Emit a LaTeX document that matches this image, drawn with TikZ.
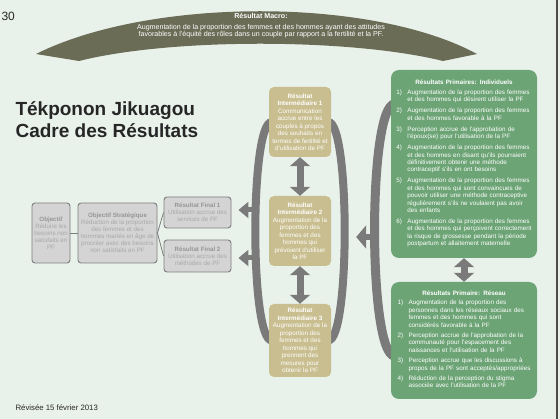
\documentclass[tikz,border=0pt]{standalone}
\usepackage{fontspec}
\setmainfont{Liberation Sans}
\usepackage{xcolor}
\usepackage{tikz}
\definecolor{bgmint}{RGB}{233,241,235}
\definecolor{macroolive}{RGB}{106,108,86}
\definecolor{interbeige}{RGB}{201,190,143}
\definecolor{primgreen}{RGB}{108,164,117}
\definecolor{finalgray}{RGB}{212,212,212}
\definecolor{bordergray}{RGB}{125,125,125}
\definecolor{headgray}{RGB}{150,150,150}
\definecolor{softtext}{RGB}{168,168,168}
\definecolor{arrowgray}{RGB}{122,122,122}
\usetikzlibrary{arrows.meta, backgrounds}

\tikzset{
	graybox/.style={draw=bordergray, line width=0.9pt, rounded corners=3pt, fill=finalgray, text=softtext, align=center, inner sep=1pt, font=\fontsize{6.2}{7}\selectfont},
	beigebox/.style={rounded corners=5pt, fill=interbeige, text=white, align=center, inner sep=0.5pt, minimum width=62pt, font=\fontsize{6.3}{7.5}\selectfont},
	greenbox/.style={rounded corners=8pt, fill=primgreen, text=white, align=center, text width=138pt, inner xsep=4pt, font=\fontsize{6.3}{7.4}\selectfont},
	band/.style={arrowgray, line width=8pt},
	sidearrow/.style={arrowgray, line width=5pt, -{Triangle[length=10pt,width=16pt]}},
	twoway/.style={arrowgray, line width=7pt, {Triangle[length=9pt,width=20pt]}-{Triangle[length=9pt,width=20pt]}}
}

\begin{document}
\begin{tikzpicture}[x=1pt, y=-1pt]
	\useasboundingbox (0,0) rectangle (560,419);
	\begin{scope}[on background layer]
		\fill[bgmint] (0,0) rectangle (560,419);
	\end{scope}
	\draw[black!70, line width=1.5pt] (557,0) -- (557,419);
	
	\node[anchor=west, text=black!85, font=\fontsize{12}{14}\selectfont] (slideno) at (-2,16) {30};
	\node[anchor=base west, text=black!85, font=\bfseries\fontsize{19}{22}\selectfont] (title1) at (12,116) {Tékponon Jikuagou};
	\node[anchor=base west, text=black!85, font=\bfseries\fontsize{19}{22}\selectfont] (title2) at (12,138) {Cadre des Résultats};
	\node[anchor=base west, text=black!85, font=\fontsize{7.8}{9}\selectfont] (revised) at (12,411) {Révisée 15 février 2013};
	
	% macro arc
	\fill[macroolive] (36,54) .. controls (150,-3) and (372,-3) .. (477,54) -- (443,61) .. controls (350,38) and (170,38) .. (79,61) -- cycle;
	\node[text=white, align=center, font=\fontsize{7.1}{7.5}\selectfont] (macro) at (261,26) {\textbf{Résultat Macro:}\\[3pt]Augmentation de la proportion des femmes et des hommes ayant des attitudes\\favorables à l’équité des rôles dans un couple par rapport  a la fertilité et la PF.};
	
	\node[graybox, minimum width=38pt, minimum height=60pt] (obj) at (51,233) {\textcolor{headgray}{\textbf{Objectif}}\\Réduire les\\besoins non\\satisfaits en\\PF};
	\node[graybox, minimum width=79pt, minimum height=60pt] (strat) at (117.5,233) {\textcolor{headgray}{\textbf{Objectif Stratégique}}\\Réduction de la proportion\\des femmes et des\\hommes mariés en âge de\\procréer avec des besoins\\non satisfaits en PF};
	\node[graybox, minimum width=67pt, minimum height=31pt] (rf1) at (197.5,212.5) {\textcolor{headgray}{\textbf{Résultat Final 1}}\\Utilisation accrue des\\services de PF};
	\node[graybox, minimum width=67pt, minimum height=32pt] (rf2) at (197.5,256) {\textcolor{headgray}{\textbf{Résultat Final 2}}\\Utilisation accrue des\\méthodes de PF};
	
	\draw[bordergray, line width=0.8pt] (obj) -- (strat);
	\draw[bordergray, line width=0.8pt] (strat.east) -- (rf1.west);
	\draw[bordergray, line width=0.8pt] (strat.east) -- (rf2.west);
	
	\node[beigebox, minimum height=70pt] (ri1) at (300,122) {\textbf{Résultat}\\\textbf{Intermédiaire 1}\\Communication\\accrue entre les\\couples à propos\\des souhaits en\\termes de fertilité et\\d’utilisation de PF};
	\node[beigebox, minimum height=70pt] (ri2) at (300,231) {\textbf{Résultat}\\\textbf{Intermédiaire 2}\\Augmentation de la\\proportion des\\femmes et des\\hommes qui\\prévoient d’utiliser\\la PF};
	\node[beigebox, minimum height=73pt] (ri3) at (300,340.5) {\textbf{Résultat}\\\textbf{Intermédiaire 3}\\Augmentation de la\\proportion des\\femmes et des\\hommes qui\\prennent des\\mesures pour\\obtenir la PF};
	
	\node[greenbox, minimum height=188pt] (indiv) at (464,164) {\textbf{Résultats Primaires: Individuels}\\[3.5pt]
		\begin{tabular}{@{}p{7pt}@{\hspace{4pt}}l@{}}
			1) & Augmentation de la proportion des femmes\\
			& et des hommes qui désirent utiliser la PF\\[3.6pt]
			2) & Augmentation de la proportion des femmes\\
			& et des hommes favorable à la PF\\[3.6pt]
			3) & Perception accrue de l’approbation de\\
			& l’époux(se) pour l’utilisation de la PF\\[3.6pt]
			4) & Augmentation de la proportion des femmes\\
			& et des hommes en disant qu’ils pourraient\\
			& définitivement obtenir une méthode\\
			& contraceptif s’ils en ont besoins\\[3.6pt]
			5) & Augmentation de la proportion des femmes\\
			& et des hommes qui sont convaincues de\\
			& pouvoir utiliser une méthode contraceptive\\
			& régulièrement s’ils ne voulaient pas avoir\\
			& des enfants\\[3.6pt]
			6) & Augmentation de la proportion des femmes\\
			& et des hommes qui perçoivent correctement\\
			& la risque de grossesse pendant la période\\
			& postpartum et allaitement maternelle
		\end{tabular}};
	\node[greenbox, minimum height=117pt] (network) at (464,340.5) {\textbf{Résultats Primaire: Réseau}\\[3pt]
		\begin{tabular}{@{}p{7pt}@{\hspace{4pt}}l@{}}
			1) & Augmentation de la proportion des\\
			& personnes dans les réseaux sociaux des\\
			& femmes et des hommes qui sont\\
			& considérés favorable à la PF\\[3pt]
			2) & Perception accrue de l’approbation de la\\
			& communauté pour l’espacement des\\
			& naissances et l’utilisation de la PF\\[3pt]
			3) & Perception accrue que les discussions à\\
			& propos de la PF sont acceptés/appropriées\\[3pt]
			4) & Réduction de la perception du stigma\\
			& associée avec l’utilisation de la PF
		\end{tabular}};
	
	\draw[twoway] (ri1) -- (ri2);
	\draw[twoway] (ri2) -- (ri3);
	\draw[twoway] (indiv) -- (network);
	
	% curved bands behind the boxes
	\coordinate (lb1) at (256,210);
	\coordinate (lb2) at (256,258);
	\coordinate (gb) at (376,237);
	\begin{scope}[on background layer]
		\draw[band] ([xshift=3pt]ri1.west) .. controls +(-22,0) and +(-22,0) .. ([xshift=3pt]ri3.west);
		\draw[band] ([xshift=-3pt]ri1.east) .. controls +(22,0) and +(22,0) .. ([xshift=-3pt]ri3.east);
		\draw[band, line width=9pt] ([shift={(4,-60)}]indiv.west) .. controls +(-27,0) and +(-27,0) .. ([shift={(4,15.5)}]network.west);
		\draw[sidearrow, shorten >=7pt] (lb1) -- (rf1.east |- lb1);
		\draw[sidearrow, shorten >=7pt] (lb2) -- (rf2.east |- lb2);
		\draw[sidearrow, line width=6pt, -{Triangle[length=10pt,width=23pt]}, shorten >=25pt] (gb) -- (ri2.east |- gb);
	\end{scope}
	
\end{tikzpicture}
\end{document}
